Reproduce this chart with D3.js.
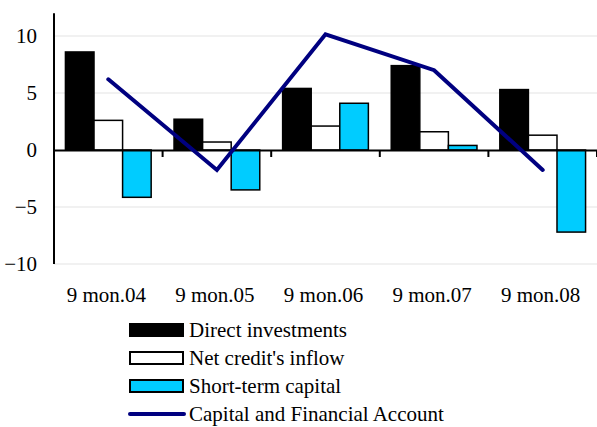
<!DOCTYPE html>
<html><head><meta charset="utf-8">
<script src="https://cdn.jsdelivr.net/npm/d3@7"></script>
<style>body{margin:0;background:#fff}</style>
</head><body><svg id="c" width="597" height="427"></svg>
<script>
const categories = ["9 mon.04","9 mon.05","9 mon.06","9 mon.07","9 mon.08"];
const directInvestments = [8.6, 2.7, 5.4, 7.4, 5.3];
const netCreditInflow = [2.6, 0.7, 2.1, 1.6, 1.3];
const shortTermCapital = [-4.15, -3.5, 4.1, 0.4, -7.2];
const capitalFinancial = [6.2, -1.75, 10.15, 7.0, -1.75];
const yTicks = [-10, -5, 0, 5, 10];
const seriesNames = ["Direct investments","Net credit's inflow","Short-term capital","Capital and Financial Account"];

const FONT = "'Times New Roman', 'Liberation Serif', Tinos, 'DejaVu Serif', serif";
const svg = d3.select("#c");
const x = d3.scaleBand().domain(categories).range([54, 597]).paddingInner(0).paddingOuter(0);
const y = d3.scaleLinear().domain([-10, 12]).range([264, 13.2]);
const bars = [
  {name: seriesNames[0], values: directInvestments, fill: "#000000"},
  {name: seriesNames[1], values: netCreditInflow, fill: "#ffffff"},
  {name: seriesNames[2], values: shortTermCapital, fill: "#00ccff"}
];
const inner = d3.scaleBand().domain(bars.map(b => b.name)).range([0, x.bandwidth()]).paddingOuter(0.4).paddingInner(0);

// grid
svg.append("g").selectAll("line").data(yTicks.filter(t => t !== 0)).join("line")
  .attr("x1", 54).attr("x2", 597).attr("y1", d => y(d)).attr("y2", d => y(d))
  .attr("stroke", "#e3e3e3").attr("stroke-width", 1);

// bars
bars.forEach(b => {
  svg.append("g").selectAll("rect").data(categories).join("rect")
    .attr("x", (c) => x(c) + inner(b.name))
    .attr("width", inner.bandwidth())
    .attr("y", (c, i) => y(Math.max(0, b.values[i])))
    .attr("height", (c, i) => Math.abs(y(b.values[i]) - y(0)))
    .attr("fill", b.fill).attr("stroke", "#000").attr("stroke-width", 1.5);
});

// y axis
const yAxis = svg.append("g").attr("transform", "translate(54,0)")
  .call(d3.axisLeft(y).tickValues(yTicks).tickSize(0).tickPadding(17));
yAxis.select(".domain").attr("stroke", "#000").attr("stroke-width", 2).attr("d", `M0,${y(12)}V${y(-10)}`);
yAxis.selectAll("text").style("font-size", "21px").style("font-family", FONT).attr("fill", "#000");

// zero line with ticks
const xAxis = svg.append("g").attr("transform", `translate(0,${y(0)})`)
  .call(d3.axisBottom(x).tickSize(0).tickFormat(""));
xAxis.select(".domain").attr("stroke", "#000").attr("stroke-width", 2);
svg.append("g").selectAll("line").data(categories).join("line")
  .attr("x1", c => x(c) + x.bandwidth()).attr("x2", c => x(c) + x.bandwidth())
  .attr("y1", y(0)).attr("y2", y(0) + 7).attr("stroke", "#000").attr("stroke-width", 2);

// x labels
svg.append("g").selectAll("text").data(categories).join("text")
  .attr("x", c => x(c) + x.bandwidth() / 2 - 2).attr("y", 302)
  .attr("text-anchor", "middle").style("font-size", "21px").style("font-family", FONT).text(d => d);

// line
const line = d3.line().x((d, i) => x(categories[i]) + x.bandwidth() / 2).y(d => y(d));
svg.append("path").datum(capitalFinancial).attr("d", line)
  .attr("fill", "none").attr("stroke", "#000080").attr("stroke-width", 4).attr("stroke-linecap", "round").attr("stroke-linejoin", "miter");

// legend
const leg = svg.append("g");
const rowY = [330, 358, 386, 414];
bars.forEach((b, i) => {
  leg.append("rect").attr("x", 130).attr("y", rowY[i] - 6).attr("width", 53).attr("height", 12)
    .attr("fill", b.fill).attr("stroke", "#000").attr("stroke-width", 2);
});
leg.append("line").attr("x1", 130).attr("x2", 184).attr("y1", rowY[3]).attr("y2", rowY[3])
  .attr("stroke", "#000080").attr("stroke-width", 4).attr("stroke-linecap", "round");
leg.selectAll("text").data(seriesNames).join("text")
  .attr("x", 189).attr("y", (d, i) => rowY[i] + 7).style("font-size", "21px").style("font-family", FONT).text(d => d);
</script></body></html>
